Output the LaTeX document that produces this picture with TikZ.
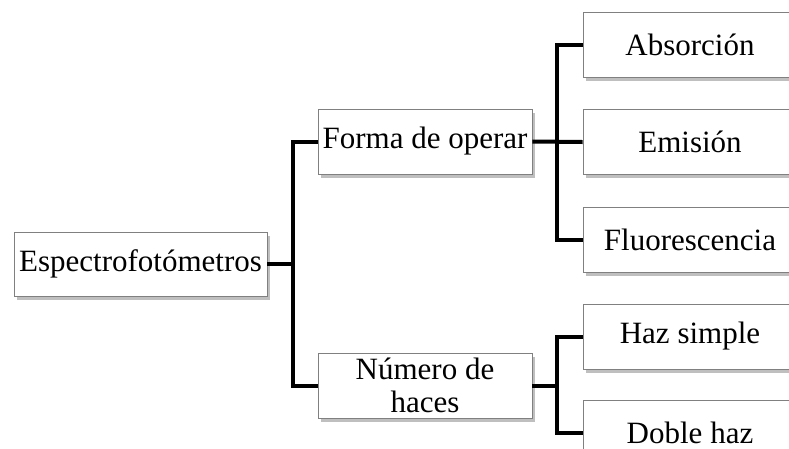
\documentclass[tikz,border=0pt]{standalone}
\usepackage{fontspec}
\setmainfont{Liberation Serif}
\usetikzlibrary{shadows}
\begin{document}
\begin{tikzpicture}[x=1pt,y=-1pt,
  box/.style={draw=black!50, line width=0.9pt, fill=white, minimum width=214pt, minimum height=65pt,
    inner sep=0pt, align=center, font=\fontsize{31}{33}\selectfont,
    drop shadow={shadow xshift=2.5pt, shadow yshift=-3.5pt, fill=black!45, opacity=0.55}},
  conn/.style={line width=4pt, black}]
\clip (0,0) rectangle (789,448);
\fill[white] (0,0) rectangle (789,448);
\node[box, minimum width=253pt, minimum height=64pt] (root) at (140.5,264) {Espectrofotómetros};
\node[box] (forma) at (425,141.5) {Forma de operar};
\node[box] (numero) at (425,385.5) {Número de\\haces};
\node[box] (abs) at (690,44.5) {Absorción};
\node[box] (emi) at (690,142) {Emisión};
\node[box] (flu) at (690,240) {Fluorescencia};
\node[box] (haz) at (690,336.5) {Haz simple};
\node[box] (doble) at (690,432.5) {Doble haz};
\coordinate (j1) at (293,264);
\coordinate (j2) at (557,142);
\coordinate (j3) at (557,385.5);
\draw[conn] (root.east) -- (j1);
\draw[conn] (forma.west) -| (j1) |- (numero.west);
\draw[conn] (forma.east) -- (emi.west);
\draw[conn] (abs.west) -| (j2) |- (flu.west);
\draw[conn] (numero.east) -- (j3);
\draw[conn] (haz.west) -| (j3) |- (doble.west);
\end{tikzpicture}
\end{document}
